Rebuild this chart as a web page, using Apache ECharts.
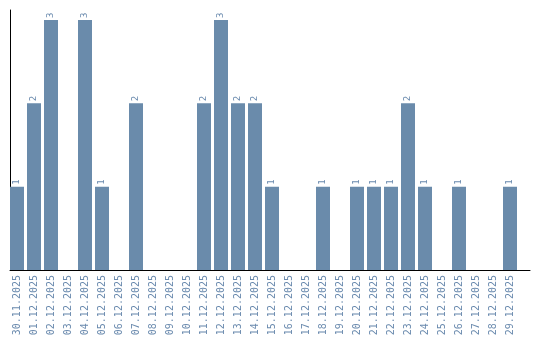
<!DOCTYPE html>
<html>
<head>
<meta charset="utf-8">
<script src="https://cdn.jsdelivr.net/npm/echarts@6/dist/echarts.min.js"></script>
<style>html,body{margin:0;padding:0;background:#fff}#c{width:540px;height:340px}</style>
</head>
<body>
<div id="c"></div>
<script>
var categories = ["30.11.2025","01.12.2025","02.12.2025","03.12.2025","04.12.2025","05.12.2025","06.12.2025","07.12.2025","08.12.2025","09.12.2025","10.12.2025","11.12.2025","12.12.2025","13.12.2025","14.12.2025","15.12.2025","16.12.2025","17.12.2025","18.12.2025","19.12.2025","20.12.2025","21.12.2025","22.12.2025","23.12.2025","24.12.2025","25.12.2025","26.12.2025","27.12.2025","28.12.2025","29.12.2025"];
var values = [1,2,3,0,3,1,0,2,0,0,0,2,3,2,2,1,0,0,1,0,1,1,1,2,1,0,1,0,0,1];

var chart = echarts.init(document.getElementById('c'), null, {renderer:'canvas'});
chart.setOption({
  animation: false,
  grid: [
    {left: 10, right: 10, top: 10, bottom: 70},
    {left: 8.5, right: 21.5, top: 10, bottom: 70}
  ],
  xAxis: [{
    type: 'value', gridIndex: 0, min: 0, max: 1,
    axisLine: {show: true, onZero: false, lineStyle: {color: '#000', width: 1}},
    axisTick: {show: false}, axisLabel: {show: false}, splitLine: {show: false}
  }, {
    type: 'category',
    gridIndex: 1,
    data: categories,
    axisLine: {show: false},
    axisTick: {show: false},
    axisLabel: {rotate: 90, interval: 0, margin: 5, color: '#6a8aae', fontFamily: 'DejaVu Sans Mono', fontSize: 10}
  }],
  yAxis: [{
    type: 'value', gridIndex: 0, min: 0, max: 1,
    axisLine: {show: true, onZero: false, lineStyle: {color: '#000', width: 1}},
    axisTick: {show: false}, axisLabel: {show: false}, splitLine: {show: false}
  }, {
    type: 'value',
    gridIndex: 1,
    min: 0,
    max: 3.12,
    axisLine: {show: false},
    axisTick: {show: false},
    axisLabel: {show: false},
    splitLine: {show: false}
  }],
  series: [{
    type: 'bar',
    xAxisIndex: 1,
    yAxisIndex: 1,
    data: values,
    barWidth: 14,
    itemStyle: {color: '#6a8bab'},
    label: {
      show: true,
      position: 'top',
      rotate: 90,
      align: 'left',
      verticalAlign: 'middle',
      distance: 2,
      color: '#6a8aae',
      fontFamily: 'DejaVu Sans Mono',
      fontSize: 9,
      formatter: function(p){ return p.value === 0 ? '' : String(p.value); }
    }
  }]
});
</script>
</body>
</html>
